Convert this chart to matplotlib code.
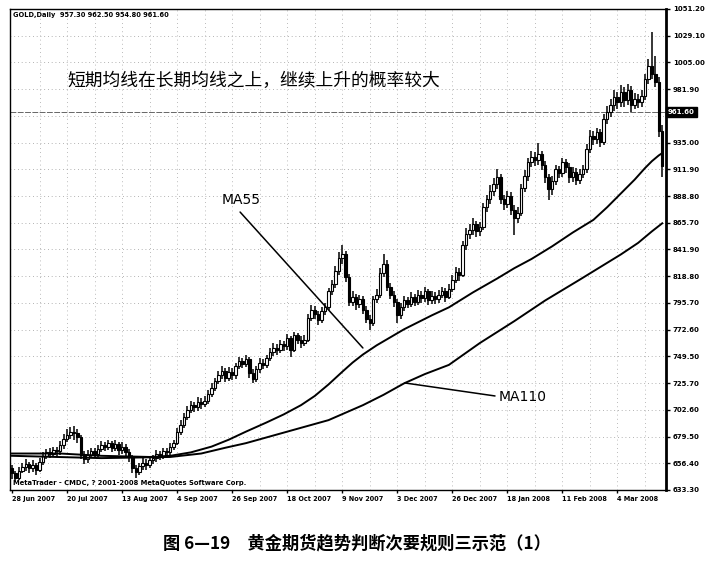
import matplotlib
matplotlib.use('Agg')
import matplotlib.pyplot as plt
from matplotlib.transforms import blended_transform_factory

# ---------------- data ----------------
first_open = 652
closes = [648, 644, 650, 653, 656, 652, 655, 651, 658, 663,
          666, 665, 668, 667, 672, 678, 681, 684, 683, 679,
          664, 660, 664, 667, 665, 669, 672, 671, 674, 670,
          673, 668, 671, 666, 662, 652, 649, 654, 657, 655,
          659, 661, 665, 663, 667, 666, 671, 674, 684, 690,
          697, 703, 707, 705, 710, 708, 711, 717, 722, 728,
          733, 737, 731, 736, 733, 741, 745, 743, 747, 735,
          730, 738, 744, 742, 748, 753, 757, 755, 760, 758,
          765, 755, 768, 764, 761, 764, 783, 790, 786, 781,
          789, 792, 806, 812, 824, 835, 838, 818, 797, 801,
          795, 799, 790, 782, 778, 799, 803, 822, 830, 810,
          803, 797, 785, 792, 798, 795, 801, 797, 803, 800,
          806, 798, 802, 799, 803, 806, 801, 808, 816, 823,
          820, 846, 856, 859, 864, 858, 862, 879, 886, 893,
          899, 905, 886, 882, 889, 877, 870, 874, 896, 906,
          918, 923, 920, 925, 916, 905, 895, 902, 912, 909,
          918, 914, 905, 910, 903, 908, 912, 930, 941, 938,
          944, 936, 956, 962, 968, 975, 970, 979, 972, 981,
          968, 973, 970, 976, 990, 1002, 995, 988, 945, 915]
highs = [655, 650, 653, 657, 660, 658, 659, 657, 661, 666,
         669, 670, 671, 671, 676, 682, 686, 688, 689, 686,
         681, 667, 668, 670, 670, 672, 676, 675, 677, 676,
         677, 675, 675, 673, 669, 664, 655, 657, 661, 660,
         662, 664, 668, 667, 670, 670, 674, 677, 687, 694,
         700, 706, 711, 710, 714, 713, 715, 720, 726, 731,
         737, 741, 739, 740, 739, 744, 749, 748, 751, 749,
         738, 741, 748, 747, 751, 757, 761, 760, 764, 763,
         769, 767, 771, 770, 767, 768, 786, 794, 793, 789,
         792, 796, 809, 816, 828, 840, 846, 841, 821, 806,
         804, 803, 802, 793, 785, 802, 808, 826, 838, 833,
         813, 806, 799, 796, 802, 801, 805, 804, 807, 806,
         810, 808, 806, 805, 807, 810, 809, 812, 820, 827,
         826, 850, 861, 864, 870, 867, 866, 883, 890, 898,
         904, 912, 908, 890, 893, 892, 881, 879, 899, 911,
         922, 928, 927, 935, 928, 919, 908, 906, 916, 915,
         922, 921, 917, 914, 913, 912, 916, 934, 946, 945,
         948, 947, 960, 967, 973, 981, 979, 985, 983, 986,
         984, 978, 977, 981, 995, 1008, 1031, 1010, 992, 950]
lows = [643, 640, 642, 648, 650, 648, 649, 646, 649, 655,
        660, 661, 662, 663, 664, 669, 675, 678, 677, 674,
        660, 656, 657, 661, 661, 662, 666, 667, 668, 666,
        667, 664, 665, 662, 658, 648, 644, 646, 651, 651,
        652, 656, 658, 659, 660, 662, 664, 668, 672, 681,
        687, 694, 700, 701, 702, 704, 705, 708, 714, 719,
        725, 730, 727, 728, 729, 730, 738, 739, 740, 731,
        726, 727, 735, 738, 739, 745, 750, 751, 752, 754,
        755, 749, 753, 760, 757, 758, 762, 780, 782, 777,
        778, 785, 790, 803, 809, 820, 830, 814, 793, 793,
        790, 791, 786, 778, 772, 776, 796, 800, 818, 806,
        799, 792, 778, 782, 789, 791, 792, 793, 794, 796,
        797, 794, 795, 795, 796, 800, 797, 799, 805, 813,
        815, 818, 842, 851, 855, 853, 854, 859, 875, 882,
        889, 895, 882, 877, 878, 872, 855, 865, 871, 892,
        902, 914, 915, 916, 911, 900, 885, 890, 898, 904,
        905, 909, 900, 901, 898, 899, 904, 909, 926, 933,
        934, 931, 933, 951, 957, 963, 964, 966, 966, 968,
        962, 964, 965, 966, 972, 986, 990, 983, 940, 905]

ma55_bars = [0, 14, 26, 40, 46, 52, 58, 63, 68, 74, 79, 84, 88, 92, 96, 99,
             102, 106, 110, 114, 118, 122, 127, 134, 141, 146, 151, 157, 163,
             169, 173, 177, 181, 184, 186, 188, 189]
ma55_vals = [665, 665, 663, 662, 663, 666, 671, 677, 684, 692, 699, 707, 715,
             725, 736, 744, 751, 759, 766, 773, 779, 785, 792, 805, 817, 826,
             834, 845, 857, 868, 879, 891, 903, 913, 919, 924, 926]
ma110_bars = [0, 26, 46, 55, 62, 68, 80, 92, 102, 108, 114, 120, 127, 136,
              146, 155, 165, 171, 177, 182, 186, 189]
ma110_vals = [663, 661, 662, 665, 670, 674, 684, 694, 707, 716, 726, 734, 742,
              761, 780, 798, 816, 827, 838, 848, 858, 865]

date_bars = [0, 16, 32, 48, 64, 80, 96, 112, 128, 144, 160, 176]
date_labels = ['28 Jun 2007', '20 Jul 2007', '13 Aug 2007', '4 Sep 2007',
               '26 Sep 2007', '18 Oct 2007', '9 Nov 2007', '3 Dec 2007',
               '26 Dec 2007', '18 Jan 2008', '11 Feb 2008', '4 Mar 2008']
price_labels = ['633.30', '656.40', '679.50', '702.60', '725.70', '749.50',
                '772.60', '795.70', '818.80', '841.90', '865.70', '888.80',
                '911.90', '935.00', '', '981.90', '1005.00', '1029.10', '1051.20']
price_min, price_max = 633.3, 1051.2
current_price = 961.60
header = 'GOLD,Daily  957.30 962.50 954.80 961.60'
footer = 'MetaTrader - CMDC, ? 2001-2008 MetaQuotes Software Corp.'
note = '短期均线在长期均线之上，继续上升的概率较大'
caption = '图 6—19　黄金期货趋势判断次要规则三示范（1）'

# ---------------- drawing ----------------
plt.rcParams['font.family'] = ['DejaVu Sans', 'Noto Sans CJK SC']

fig = plt.figure(figsize=(7.08, 5.64), dpi=100)
ax = fig.add_axes([10 / 708, 74 / 564, 656 / 708, 481 / 564])
ax.set_xlim(-0.58, 190.1)
ax.set_ylim(price_min, price_max)

n = len(closes)
xs = list(range(n))
opens = [first_open] + closes[:-1]

step = (price_max - price_min) / (len(price_labels) - 1)
ytick_pos = [price_min + k * step for k in range(len(price_labels))]

# grid
for y in ytick_pos[1:-1]:
    ax.axhline(y, color='#9a9a9a', lw=0.6, ls=(0, (1, 3.5)), zorder=0)
for b in range(8, 190, 8):
    ax.axvline(b, color='#a5a5a5', lw=0.6, ls=(0, (1, 4)), zorder=0)
ax.axhline(current_price, color='#666666', lw=0.7, ls=(0, (6, 1.5)), zorder=0)

# candles
ax.vlines(xs, lows, highs, color='black', lw=1.1, zorder=2)
bottoms = [min(o, c) for o, c in zip(opens, closes)]
heights = [max(abs(c - o), 0.8) for o, c in zip(opens, closes)]
faces = ['white' if c >= o else 'black' for o, c in zip(opens, closes)]
ax.bar(xs, heights, bottom=bottoms, width=0.72, color=faces,
       edgecolor='black', linewidth=0.8, zorder=3)

# moving averages
ax.plot(ma55_bars, ma55_vals, color='black', lw=1.4, zorder=4)
ax.plot(ma110_bars, ma110_vals, color='black', lw=1.4, zorder=4)

# annotations
ax.text(61, 885, 'MA55', fontsize=10, va='center', ha='left')
ax.annotate('', xy=(102, 756.7), xytext=(66.3, 874.8),
            arrowprops=dict(arrowstyle='-', color='black', lw=1.1,
                            shrinkA=0, shrinkB=0))
ax.text(141.5, 714, 'MA110', fontsize=10, va='center', ha='left')
ax.annotate('', xy=(140.4, 715), xytext=(114.2, 726.3),
            arrowprops=dict(arrowstyle='-', color='black', lw=1.1,
                            shrinkA=0, shrinkB=0))
ax.text(0.087, 0.850, note, transform=ax.transAxes, fontsize=12.8,
        family=['Noto Sans CJK SC', 'DejaVu Sans'], fontweight='medium',
        va='center', ha='left')

ax.text(0.0046, 0.9875, header, transform=ax.transAxes, fontsize=4.8,
        fontweight='bold', va='center', ha='left')
ax.text(0.0046, 0.0146, footer, transform=ax.transAxes, fontsize=4.9,
        fontweight='bold', va='center', ha='left')

# axes styling
for s in ['left', 'top', 'bottom']:
    ax.spines[s].set_linewidth(1.0)
ax.spines['right'].set_linewidth(2.0)
ax.yaxis.tick_right()
ax.set_yticks(ytick_pos)
ax.set_yticklabels(price_labels, fontsize=5, fontweight='bold')
ax.tick_params(axis='y', length=3, width=1, pad=2)
ax.set_xticks(date_bars)
ax.set_xticklabels(date_labels, fontsize=4.7, fontweight='bold', ha='left')
ax.tick_params(axis='x', length=2.5, width=1, pad=1.5)

trans = blended_transform_factory(ax.transAxes, ax.transData)
ax.text(1.003, current_price, '961.60', transform=trans, fontsize=5,
        fontweight='bold', color='white', va='center', ha='left',
        bbox=dict(boxstyle='square,pad=0.25', fc='black', ec='black'))

fig.text(0.504, 0.0363, caption, fontsize=12.4, fontweight='bold',
         family=['Noto Sans CJK SC', 'DejaVu Sans'], ha='center', va='center')

fig.savefig('out.png', dpi=100)
